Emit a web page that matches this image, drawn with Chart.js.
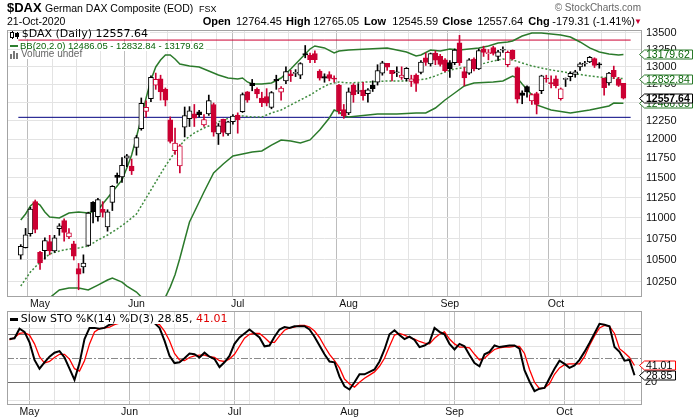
<!DOCTYPE html>
<html>
<head>
<meta charset="utf-8">
<script src="https://cdn.jsdelivr.net/npm/chart.js@4.4.0/dist/chart.umd.min.js"></script>
<style>
  body { margin: 0; background: #fff; width: 694px; height: 418px; overflow: hidden; position: relative; font-family: "Liberation Sans", Arial, sans-serif; color: #000; }
  canvas { position: absolute; left: 0; }
  .t { position: absolute; white-space: nowrap; line-height: 1; }
  .b { font-weight: bold; }
  .lg { background: linear-gradient(#fff, #fff) no-repeat; background-size: 100% 9px; background-position: 0 2.6px; padding-right: 2px; }
  .ico { position: absolute; }
</style>
</head>
<body>
<canvas id="price" width="694" height="310" style="top:0"></canvas>
<canvas id="sto" width="694" height="108" style="top:310px"></canvas>

<!-- header -->
<div class="t b" style="left:7px;top:1px;font-size:13px">$DAX</div>
<div class="t" style="left:45px;top:3.4px;font-size:10.5px">German DAX Composite (EOD)</div>
<div class="t" style="left:199px;top:4.7px;font-size:9px">FSX</div>
<div class="t" style="right:53px;top:3.2px;font-size:10px;color:#666">© StockCharts.com</div>
<div class="t" style="left:7px;top:16.1px;font-size:10.5px">21-Oct-2020</div>
<div class="t b" style="left:202.7px;top:15.7px;font-size:11px">Open</div>
<div class="t" style="left:236px;top:15.7px;font-size:11px">12764.45</div>
<div class="t b" style="left:286px;top:15.7px;font-size:11px">High</div>
<div class="t" style="left:313.3px;top:15.7px;font-size:11px">12765.05</div>
<div class="t b" style="left:364px;top:15.7px;font-size:11px">Low</div>
<div class="t" style="left:392.3px;top:15.7px;font-size:11px">12545.59</div>
<div class="t b" style="left:442.3px;top:15.7px;font-size:11px">Close</div>
<div class="t" style="left:477.3px;top:15.7px;font-size:11px">12557.64</div>
<div class="t b" style="left:528.3px;top:15.7px;font-size:11px">Chg</div>
<div class="t" style="left:552.3px;top:15.7px;font-size:11px">-179.31 (-1.41%)</div>
<div class="t" style="left:634px;top:18px;font-size:8px;color:#cc0033">▼</div>

<!-- price panel legend -->
<div class="ico" style="left:10px;top:32px;width:2px;height:4px;border:1px solid #000;background:#fff"></div>
<div class="ico" style="left:11.5px;top:31px;width:1px;height:8px;background:#000;z-index:-1"></div>
<div class="ico" style="left:15px;top:33px;width:4px;height:4px;background:#000"></div>
<div class="ico" style="left:16.5px;top:31.5px;width:1px;height:7px;background:#000"></div>
<div class="t lg" style="left:21.7px;top:28.4px;font-size:11px;font-family:'DejaVu Sans'">$DAX (Daily) 12557.64</div>
<div class="ico" style="left:10px;top:44.5px;width:8px;height:2px;background:#2f7f2f"></div>
<div class="t lg" style="left:20px;top:41px;font-size:9.5px;color:#0b650b">BB(20,2.0) 12486.05 - 12832.84 - 13179.62</div>
<div class="ico" style="left:10px;top:54px;width:2px;height:5px;background:#777"></div>
<div class="ico" style="left:13px;top:51px;width:2px;height:8px;background:#777"></div>
<div class="ico" style="left:16px;top:53px;width:2px;height:6px;background:#777"></div>
<div class="t lg" style="left:21px;top:48.8px;font-size:10px;color:#666">Volume undef</div>

<!-- sto panel legend -->
<div class="ico" style="left:10px;top:318px;width:8px;height:2.5px;background:#000"></div>
<div class="t lg" style="left:20.7px;top:313px;font-size:11px;font-family:'DejaVu Sans'">Slow STO %K(14) %D(3) 28.85, <span style="color:#e00000">41.01</span></div>

<script>
// ---- data ----
const dates = [
  '2020-04-27','2020-04-28','2020-04-29','2020-04-30',
  '2020-05-04','2020-05-05','2020-05-06','2020-05-07','2020-05-08',
  '2020-05-11','2020-05-12','2020-05-13','2020-05-14','2020-05-15',
  '2020-05-18','2020-05-19','2020-05-20','2020-05-21','2020-05-22',
  '2020-05-25','2020-05-26','2020-05-27','2020-05-28','2020-05-29',
  '2020-06-02','2020-06-03','2020-06-04','2020-06-05',
  '2020-06-08','2020-06-09','2020-06-10','2020-06-11','2020-06-12',
  '2020-06-15','2020-06-16','2020-06-17','2020-06-18','2020-06-19',
  '2020-06-22','2020-06-23','2020-06-24','2020-06-25','2020-06-26',
  '2020-06-29','2020-06-30','2020-07-01','2020-07-02','2020-07-03',
  '2020-07-06','2020-07-07','2020-07-08','2020-07-09','2020-07-10',
  '2020-07-13','2020-07-14','2020-07-15','2020-07-16','2020-07-17',
  '2020-07-20','2020-07-21','2020-07-22','2020-07-23','2020-07-24',
  '2020-07-27','2020-07-28','2020-07-29','2020-07-30','2020-07-31',
  '2020-08-03','2020-08-04','2020-08-05','2020-08-06','2020-08-07',
  '2020-08-10','2020-08-11','2020-08-12','2020-08-13','2020-08-14',
  '2020-08-17','2020-08-18','2020-08-19','2020-08-20','2020-08-21',
  '2020-08-24','2020-08-25','2020-08-26','2020-08-27','2020-08-28',
  '2020-08-31','2020-09-01','2020-09-02','2020-09-03','2020-09-04',
  '2020-09-07','2020-09-08','2020-09-09','2020-09-10','2020-09-11',
  '2020-09-14','2020-09-15','2020-09-16','2020-09-17','2020-09-18',
  '2020-09-21','2020-09-22','2020-09-23','2020-09-24','2020-09-25',
  '2020-09-28','2020-09-29','2020-09-30','2020-10-01','2020-10-02',
  '2020-10-05','2020-10-06','2020-10-07','2020-10-08','2020-10-09',
  '2020-10-12','2020-10-13','2020-10-14','2020-10-15','2020-10-16',
  '2020-10-19','2020-10-20','2020-10-21'
];

const opens = [
  10557,10645,10810,11200, 10590,10610,10715,10605,10870, 10967,10770,10690,10400,10420,
  10670,11190,11015,11105,10890, 11190,11530,11510,11750,11650,
  11890,12140,12375,12550, 12740,12830,12680,12260,11850, 11650,12160,12276,12340,12370,
  12190,12340,12470,12070,12267, 12069,12235,12325,12370,12645,
  12770,12680,12560,12580,12430, 12820,12640,12800,12900,12905, 12880,13190,13170,13190,12940,
  12860,12890,12840,12740,12400,
  12355,12740,12650,12670,12620, 12740,12780,12910,13050,12950, 12915,12850,12830,12790,12880,
  12920,13130,13040,13200,13150, 13100,
  13060,13060,13350,12930, 12910,13110,12970,13260,13190, 13280,13150,13240,13030,13240,
  12990,12630,12720,12520,12620, 12660,12840,12770,
  12830,12550, 12820,12860,12890,13000,13040, 13070,13120,13030,12840,12770, 12950,12820,12764.45
];
const highs = [
  10680,10873,11130,11220, 10600,10760,10790,10790,10930, 10990,10870,10720,10460,10560,
  11070,11200,11240,11200,11100, 11400,11560,11760,11800,11740,
  12050,12560,12520,12870, 12910,12880,12700,12300,12150, 11930,12435,12440,12470,12390,
  12330,12600,12490,12210,12270, 12240,12330,12355,12630,12650,
  12820,12700,12640,12690,12650, 12880,12720,13000,12950,12960, 13060,13310,13200,13230,12960,
  12900,12930,12870,12750,12470,
  12700,12760,12760,12780,12690, 12800,13030,13080,13050,12950, 13000,13000,12990,12880,12900,
  13090,13200,13200,13230,13180, 13120,
  13090,13260,13460,12990, 13120,13130,13260,13300,13250, 13300,13240,13290,13230,13245,
  13000,12660,12730,12620,12640, 12880,12880,12870,
  12870,12700, 12840,12930,12950,13060,13080, 13150,13130,13060,12840,12920, 13010,12850,12765.05
];
const lows = [
  10510,10640,10780,10820, 10390,10510,10560,10590,10790, 10720,10750,10500,10160,10350,
  10660,10940,10960,11010,10840, 11090,11430,11440,11640,11540,
  11790,12120,12295,12510, 12680,12530,12450,11950,11800, 11560,12030,12170,12170,12300,
  12170,12320,12040,11930,12040, 12050,12200,12080,12360,12500,
  12660,12560,12440,12450,12410, 12680,12530,12760,12790,12860, 12830,13130,13060,13060,12810,
  12780,12800,12780,12340,12280,
  12330,12500,12620,12530,12500, 12650,12740,12880,12950,12800, 12860,12820,12800,12720,12650,
  12900,13020,13010,13030,13010, 12930,
  12850,13030,13020,12730, 12890,12940,12960,13150,13100, 13170,13090,13210,13000,13100,
  12490,12480,12570,12470,12340, 12620,12780,12700,
  12700,12530, 12720,12800,12850,12950,13010, 13060,12990,12980,12600,12740, 12830,12720,12545.59
];
const closes = [
  10660,10796,11108,10862, 10467,10729,10606,10759,10904, 10825,10820,10543,10337,10465,
  11059,11075,11224,11066,11074, 11391,11505,11657,11781,11587,
  12021,12487,12430,12848, 12820,12643,12530,11970,11949, 11911,12316,12382,12281,12331,
  12263,12524,12094,12178,12089, 12232,12311,12261,12608,12528,
  12733,12617,12495,12489,12634, 12800,12697,12931,12875,12920, 13047,13172,13104,13103,12838,
  12839,12835,12822,12380,12313,
  12647,12601,12660,12592,12675, 12688,12947,13059,12994,12901, 12921,12882,12977,12830,12765,
  13067,13062,13190,13096,13033, 12945,
  12974,13243,13058,12843, 13100,12968,13237,13209,13203, 13194,13218,13255,13208,13116,
  12542,12594,12643,12607,12469, 12871,12826,12761,
  12731,12689, 12828,12906,12929,13042,13051, 13138,13019,13028,12704,12909, 12855,12737,12557.64
];
const priorClose = 10336; // close of the session before the first candle (colours the first bar)

// Bollinger bands, [day index, value]
const bbUpper = [
  [0,10975],[1,11048],[2,11146],[3,11195],[4,11158],[5,11072],[6,11011],[8,10999],[10,11060],
  [12,11072],[14,11060],[16,11097],[18,11245],[20,11395],[21,11471],[22,11624],[23,11792],
  [24,12029],[25,12285],[26,12559],[27,12812],[28,12998],[29,13099],[30,13171],[31,13171],
  [32,13113],[33,13041],[35,13012],[37,12998],[39,12940],[41,12883],[43,12840],[45,12826],
  [46,12840],[47,12784],[48,12756],[50,12756],[52,12770],[54,12840],[56,12969],[58,13113],
  [60,13259],[61,13303],[62,13288],[63,13274],[65,13200],[66,13230],[68,13244],[72,13259],
  [76,13274],[78,13244],[80,13215],[82,13157],[83,13171],[85,13244],[87,13230],[89,13259],
  [91,13244],[93,13259],[95,13274],[97,13303],[99,13347],[101,13362],[102,13377],[104,13451],
  [106,13496],[108,13496],[110,13481],[112,13466],[114,13436],[116,13362],[118,13274],
  [120,13215],[122,13186],[124,13171],[125,13179.62]
];
const bbMid = [
  [0,10202],[2,10361],[4,10476],[6,10570],[8,10605],[10,10628],[12,10640],[14,10664],[16,10734],
  [18,10794],[20,10866],[22,10950],[24,11048],[26,11245],[28,11446],[30,11650],[32,11832],
  [34,11990],[36,12083],[38,12150],[40,12204],[42,12258],[44,12298],[46,12312],[48,12298],
  [50,12298],[52,12353],[54,12394],[56,12463],[58,12532],[60,12601],[62,12685],[64,12756],
  [66,12784],[68,12770],[72,12784],[76,12798],[80,12798],[84,12826],[86,12869],[88,12926],
  [90,12969],[94,13012],[98,13084],[100,13113],[102,13099],[104,13055],[106,13012],[110,12954],
  [114,12912],[118,12869],[122,12840],[125,12832.84]
];
const bbLower = [
  [0,9300],[3,9600],[6,10070],[8,10157],[10,10179],[12,10179],[14,10157],[16,10213],[18,10270],
  [19,10293],[21,10247],[22,10202],[24,10135],[25,10079],[27,9850],[29,9990],[30,10079],
  [31,10190],[32,10330],[33,10520],[34,10734],[35,10950],[36,11072],[38,11320],[40,11560],
  [42,11676],[44,11779],[46,11805],[48,11832],[50,11845],[52,11923],[54,11990],[56,11976],
  [58,11950],[60,11990],[62,12123],[64,12285],[65,12394],[66,12367],[67,12312],[68,12298],
  [70,12312],[74,12339],[78,12339],[82,12353],[84,12353],[86,12421],[88,12532],[90,12629],
  [92,12727],[94,12770],[98,12784],[100,12798],[102,12869],[103,12840],[104,12756],[106,12601],
  [107,12463],[110,12394],[114,12353],[118,12394],[122,12449],[123,12490],[125,12486.05]
];
const redLevel = 13390;   // drawn horizontal lines
const blueLevel = 12294;

// Slow stochastic
const stoK = [
  74,75,87,83, 70,48,37,45,52, 57,59,51,37,23, 44,74,88,88,87, 88,92,94,96,97,
  97,97,97,97, 96,94,88,72,53, 44,45,50,56,55, 51,57,52,49,39, 45,53,68,76,81,
  86,81,76,65,66, 77,86,89,88,90, 90,90,86,77,66, 55,46,45,27,15,
  11,20,30,30,33, 36,46,61,80,85, 79,74,77,73,64, 66,70,88,83,80, 68,
  61,68,65,54, 44,40,55,58,66, 64,65,66,66,62, 35,21,9,12,13, 25,37,47,
  43,38, 41,48,58,69,81, 93,92,90,64,58, 47,48,28.85
];
const stoD = [
  73,76,81,82, 79,68,52,44,46, 51,55,55,49,37, 34,47,68,83,87, 88,89,92,94,95,
  95,95,95,95, 95,94,92,84,72, 56,48,47,51,53, 54,54,52,51,47, 46,49,55,65,75,
  80,81,81,76,70, 70,78,85,88,89, 91,91,89,84,76, 65,55,47,38,24,
  18,14,20,25,29, 33,40,50,65,79, 81,79,76,74,71, 69,68,75,80,83, 74,
  68,64,64,63, 55,48,50,56,61, 63,64,64,65,65, 56,36,20,12,13, 18,30,38,
  42,43, 43,43,52,66,78, 88,91,90,81,62, 57,51,41.01
];
const stoGrid = [-2.5,5,12.5,20,27.5,35,42.5,50,57.5,65,72.5,80,87.5,95,102.5];
const stoLevels = [20, 50, 80];
const priceTicks = [10250,10500,10750,11000,11250,11500,11750,12000,12250,12500,12750,13000,13250,13500];

// ---- styling ----
const RED = '#cc0033', BLACK = '#000000', GREEN = '#2b7a2b';
const GRID = '#e3e3e3', MONTH_GRID = '#bdbdbd', FRAME = '#a3a3a3';
const MONTHS = ['Jan','Feb','Mar','Apr','May','Jun','Jul','Aug','Sep','Oct','Nov','Dec'];
const xMin = -0.5, xMax = dates.length + 0.5;

const dayOf = d => new Date(d + 'T00:00:00Z');
const monthStarts = [], weekStarts = [];
dates.forEach((d, i) => {
  if (i === 0) return;
  const a = dayOf(dates[i - 1]), b = dayOf(d);
  if (b.getUTCMonth() !== a.getUTCMonth()) monthStarts.push(i);
  if (b.getUTCDay() < a.getUTCDay()) weekStarts.push(i);
});
const xTickIdx = [...new Set([...weekStarts, ...monthStarts])].sort((a, b) => a - b);

// candle colours: black/red vs previous close, hollow when close > open
const prevClose = [priorClose, ...closes.slice(0, -1)];
const strokeCol = closes.map((c, i) => c >= prevClose[i] ? BLACK : RED);
const fillCol = closes.map((c, i) => c >= opens[i] ? '#ffffff' : strokeCol[i]);

const pairs = arr => arr.map(p => ({ x: p[0], y: p[1] }));
const last = arr => arr[arr.length - 1];

function zeroPad(s) { s.paddingTop = 0; s.paddingBottom = 0; s.paddingLeft = 0; s.paddingRight = 0; }

function xScale() {
  return {
    type: 'linear', min: xMin, max: xMax,
    afterBuildTicks: s => { s.ticks = xTickIdx.map(v => ({ value: v })); },
    afterFit: s => { s.height = 13; zeroPad(s); },
    grid: { color: c => (c.tick && monthStarts.includes(c.tick.value)) ? MONTH_GRID : GRID, drawTicks: false },
    border: { display: false },
    ticks: {
      autoSkip: false, maxRotation: 0, minRotation: 0, padding: 1, color: '#111',
      font: { family: 'Liberation Sans', size: 10.5 },
      callback: v => monthStarts.includes(v) ? MONTHS[dayOf(dates[v]).getUTCMonth()] : ''
    }
  };
}

function drawTag(ctx, area, y, text, stroke, color, bold) {
  ctx.save();
  ctx.font = (bold ? 'bold ' : '') + '10.5px "Liberation Sans", Arial, sans-serif';
  const tip = area.right - 2.5, left = area.right + 2.5;
  const w = Math.ceil(ctx.measureText(text).width) + 4;
  const yc = Math.round(y) + 0.5;
  ctx.beginPath();
  ctx.moveTo(tip, yc);
  ctx.lineTo(left, yc - 4.5);
  ctx.lineTo(left + w, yc - 4.5);
  ctx.lineTo(left + w, yc + 4.5);
  ctx.lineTo(left, yc + 4.5);
  ctx.closePath();
  ctx.fillStyle = '#fff';
  ctx.fill();
  ctx.lineWidth = 1;
  ctx.strokeStyle = stroke;
  ctx.stroke();
  ctx.fillStyle = color;
  ctx.textBaseline = 'middle';
  ctx.textAlign = 'left';
  ctx.fillText(text, left + 1.5, yc + 0.5);
  ctx.restore();
}

const framePlugin = {
  id: 'frame',
  afterDatasetsDraw(chart) {
    const { ctx, chartArea: a } = chart;
    ctx.save();
    ctx.strokeStyle = FRAME;
    ctx.lineWidth = 1;
    ctx.strokeRect(a.left + 0.5, a.top + 0.5, a.width - 1, a.height - 1);
    ctx.restore();
  }
};

const priceTags = {
  id: 'priceTags',
  afterDraw(chart) {
    const y = chart.scales.y, ctx = chart.ctx, a = chart.chartArea;
    drawTag(ctx, a, y.getPixelForValue(last(bbUpper)[1]), last(bbUpper)[1].toFixed(2), GREEN, '#0b650b');
    drawTag(ctx, a, y.getPixelForValue(last(bbMid)[1]), last(bbMid)[1].toFixed(2), GREEN, '#0b650b');
    drawTag(ctx, a, y.getPixelForValue(last(bbLower)[1]), last(bbLower)[1].toFixed(2), GREEN, '#0b650b');
    drawTag(ctx, a, y.getPixelForValue(last(closes)), last(closes).toFixed(2), BLACK, BLACK, true);
  }
};

const stoLines = {
  id: 'stoLines',
  beforeDatasetsDraw(chart) {
    const y = chart.scales.y, ctx = chart.ctx, a = chart.chartArea;
    ctx.save();
    ctx.lineWidth = 1;
    stoLevels.forEach(v => {
      const py = Math.round(y.getPixelForValue(v)) + 0.5;
      ctx.strokeStyle = v === 50 ? '#8a8a8a' : '#6e6e6e';
      ctx.setLineDash(v === 50 ? [7, 2, 2, 2] : []);
      ctx.beginPath();
      ctx.moveTo(a.left, py);
      ctx.lineTo(a.right, py);
      ctx.stroke();
    });
    ctx.restore();
  },
  afterDraw(chart) {
    const y = chart.scales.y, ctx = chart.ctx, a = chart.chartArea;
    drawTag(ctx, a, y.getPixelForValue(last(stoD)), last(stoD).toFixed(2), '#ff0000', BLACK);
    drawTag(ctx, a, y.getPixelForValue(last(stoK)), last(stoK).toFixed(2), BLACK, BLACK);
  }
};

// ---- price panel ----
new Chart(document.getElementById('price'), {
  type: 'bar',
  data: {
    datasets: [
      {
        label: 'body',
        data: dates.map((d, i) => ({ x: i, y: [opens[i], closes[i]] })),
        backgroundColor: fillCol, borderColor: strokeCol, borderWidth: 1,
        borderSkipped: false, barThickness: 5, grouped: false, minBarLength: 1, order: 1
      },
      {
        label: 'wick',
        data: dates.map((d, i) => ({ x: i, y: [lows[i], highs[i]] })),
        backgroundColor: strokeCol, borderWidth: 0, barThickness: 1, grouped: false, order: 2
      },
      { type: 'line', label: 'upper', data: pairs(bbUpper), borderColor: GREEN, borderWidth: 1.5, pointRadius: 0, tension: 0, order: 3 },
      { type: 'line', label: 'mid', data: pairs(bbMid), borderColor: '#3f8c3f', borderWidth: 1.5, borderDash: [2, 2], pointRadius: 0, tension: 0, order: 3 },
      { type: 'line', label: 'lower', data: pairs(bbLower), borderColor: GREEN, borderWidth: 1.5, pointRadius: 0, tension: 0, order: 3 },
      { type: 'line', label: 'red', data: [{ x: xMin, y: redLevel }, { x: xMax, y: redLevel }], borderColor: RED, borderWidth: 1, pointRadius: 0, order: 4 },
      { type: 'line', label: 'blue', data: [{ x: xMin, y: blueLevel }, { x: xMax, y: blueLevel }], borderColor: '#000080', borderWidth: 1, pointRadius: 0, order: 4 }
    ]
  },
  options: {
    responsive: false, animation: false, devicePixelRatio: 1, events: [],
    layout: { padding: { left: 7, top: 30, right: 0, bottom: 0 } },
    plugins: { legend: { display: false }, tooltip: { enabled: false } },
    scales: {
      x: xScale(),
      y: {
        type: 'logarithmic', position: 'right', min: 10079, max: 13540,
        afterBuildTicks: s => { s.ticks = priceTicks.map(v => ({ value: v })); },
        afterFit: s => { s.width = 52; zeroPad(s); },
        grid: { color: GRID, drawTicks: false },
        border: { display: false },
        ticks: { padding: 4, color: '#111', font: { family: 'Liberation Sans', size: 11 }, callback: v => String(v) }
      }
    }
  },
  plugins: [framePlugin, priceTags]
});

// ---- stochastic panel ----
new Chart(document.getElementById('sto'), {
  type: 'line',
  data: {
    datasets: [
      { label: '%K', data: stoK.map((v, i) => ({ x: i, y: v })), borderColor: BLACK, borderWidth: 2, pointRadius: 0, tension: 0, order: 1 },
      { label: '%D', data: stoD.map((v, i) => ({ x: i, y: v })), borderColor: '#ff0000', borderWidth: 1.3, pointRadius: 0, tension: 0, order: 2 }
    ]
  },
  options: {
    responsive: false, animation: false, devicePixelRatio: 1, events: [],
    layout: { padding: { left: 7, top: 1, right: 0, bottom: 0 } },
    plugins: { legend: { display: false }, tooltip: { enabled: false } },
    scales: {
      x: xScale(),
      y: {
        type: 'linear', position: 'right', min: -8.4, max: 109.1,
        afterBuildTicks: s => { s.ticks = stoGrid.map(v => ({ value: v })); },
        afterFit: s => { s.width = 52; zeroPad(s); },
        grid: { color: GRID, drawTicks: false },
        border: { display: false },
        ticks: { padding: 3, color: '#111', font: { family: 'Liberation Sans', size: 11 }, callback: v => stoLevels.includes(v) ? String(v) : '' }
      }
    }
  },
  plugins: [framePlugin, stoLines]
});
</script>
</body>
</html>
